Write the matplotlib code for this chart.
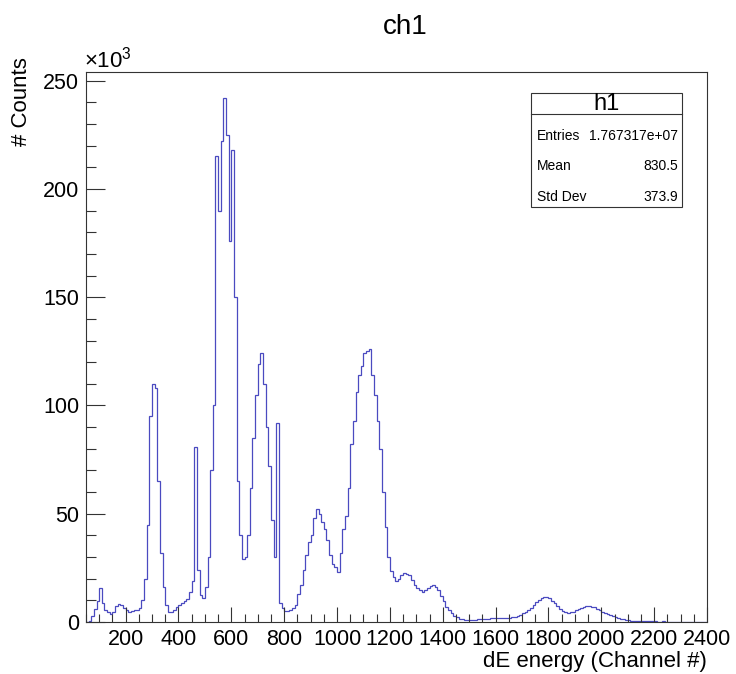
import numpy as np
import matplotlib
matplotlib.use("Agg")
import matplotlib.pyplot as plt
from matplotlib.patches import Rectangle
from matplotlib.lines import Line2D
from matplotlib.ticker import MultipleLocator

plt.rcParams['font.family'] = ['Liberation Sans', 'DejaVu Sans']
plt.rcParams['mathtext.fontset'] = 'custom'
plt.rcParams['mathtext.rm'] = 'Liberation Sans'

# histogram h1: 10-channel bins from 50 to 2400, counts in units of 10^3
bin_lo, bin_hi, bin_w = 50, 2400, 10
counts_k = [
    0, 0.5, 3, 6, 9.5, 15.5, 9, 5.5, 4.5, 3.5,             # 50-140
    4.5, 7.5, 8.5, 8, 6.5, 5.5, 4.5, 5, 5.5, 5.5,           # 150-240
    6.5, 10, 20, 45, 95, 110, 108, 65, 32, 16,              # 250-340
    8, 4.8, 4.5, 5.5, 7, 8, 9, 9.5, 10.5, 14,               # 350-440
    19, 81, 24, 12.5, 11, 16, 30, 70, 100, 215,             # 450-540
    190, 222, 242, 225, 176, 218, 150, 65, 40, 29,          # 550-640
    30, 40, 62, 85, 105, 119, 124, 110, 90, 72,             # 650-740
    47, 30, 92, 9, 6.5, 5, 5, 5.5, 6.5, 8,                  # 750-840
    13, 17, 24, 31, 37, 40, 48, 52, 50, 46,                 # 850-940
    43, 38, 31, 27, 25.5, 23, 32, 43, 49, 62,               # 950-1040
    82, 93, 106, 114, 118, 124, 125, 126, 114, 105,         # 1050-1140
    93, 80, 60, 44, 30, 23.5, 21, 19, 20, 21.5,             # 1150-1240
    22.5, 22, 21.5, 19.5, 17, 15.5, 14.8, 14, 15, 15.5,     # 1250-1340
    16.5, 17, 16, 14.8, 12, 9.5, 7, 5.5, 4, 3,              # 1350-1440
    2.3, 1.6, 1.2, 0.9, 0.9, 0.9, 1.0, 1.1, 1.2, 1.3,       # 1450-1540
    1.4, 1.5, 1.6, 1.7, 1.7, 1.7, 1.7, 1.7, 1.7, 1.8,       # 1550-1640
    1.9, 2.1, 2.4, 2.8, 3.3, 4.0, 4.8, 5.6, 6.6, 7.8,       # 1650-1740
    9.2, 10.2, 11, 11.5, 11.7, 11, 9.8, 8.6, 7.4, 6.2,      # 1750-1840
    5.2, 4.6, 4.2, 4.4, 4.8, 5.4, 5.9, 6.4, 6.9, 7.2,       # 1850-1940
    7.3, 7.1, 6.7, 6.2, 5.5, 4.8, 4.2, 3.7, 3.2, 2.8,       # 1950-2040
    2.4, 2.0, 1.6, 1.3, 1.0, 0.8, 0.6, 0.45, 0.35, 0.3,     # 2050-2140
    0.3, 0.25, 0.25, 0.3, 0.3, 0.25, 0.2, 0.2, 0.25, 0.2,   # 2150-2240
    0.2, 0.2, 0.15, 0.2, 0.2, 0.15, 0.15, 0.2, 0.15, 0.15,  # 2250-2340
    0.15, 0.1, 0.1, 0.1, 0.05,                              # 2350-2390
]
edges = np.arange(bin_lo, bin_hi + bin_w, bin_w)

x_ticks = [200, 400, 600, 800, 1000, 1200, 1400, 1600, 1800, 2000, 2200, 2400]
y_ticks = [0, 50, 100, 150, 200, 250]

stats_name = "h1"
stats_rows = [("Entries", "1.767317e+07"), ("Mean", "830.5"), ("Std Dev", "373.9")]

W, H = 736, 674
fig = plt.figure(figsize=(W / 100, H / 100), dpi=100)
ax = fig.add_axes([86 / W, 1 - 622 / H, (707 - 86) / W, (622 - 72) / H])

ax.stairs(counts_k, edges, color='#4a4ac0', linewidth=0.9)

ax.set_xlim(bin_lo, bin_hi)
ax.set_ylim(0, 254)
ax.set_xticks(x_ticks)
ax.set_yticks(y_ticks)
ax.xaxis.set_minor_locator(MultipleLocator(50))
ax.yaxis.set_minor_locator(MultipleLocator(10))
ax.tick_params(axis='x', which='major', direction='in', length=11, width=0.8,
               labelsize=15.5, pad=5, colors='#333333', labelcolor='black')
ax.tick_params(axis='x', which='minor', direction='in', length=5.8, width=0.8,
               colors='#333333')
ax.tick_params(axis='y', which='major', direction='in', length=13.5, width=0.8,
               labelsize=15.5, pad=5, colors='#333333', labelcolor='black')
ax.tick_params(axis='y', which='minor', direction='in', length=7, width=0.8,
               colors='#333333')
for s in ax.spines.values():
    s.set_color('#333333')
    s.set_linewidth(0.8)

fig.text(405 / W, 1 - 27 / H, "ch1", ha='center', va='center', fontsize=20)
fig.text(707 / W, 1 - 661 / H, "dE energy (Channel #)", ha='right', va='center', fontsize=16)
fig.text(22 / W, 1 - 57 / H, "# Counts", rotation=90, ha='center', va='top', fontsize=16)
fig.text(84 / W, 1 - 60 / H, r'$\mathregular{\times10^{3}}$', ha='left', va='center', fontsize=16)

# stats box
bx0, bx1, by0, by1 = 531, 682, 93, 207
fig.patches.append(Rectangle((bx0 / W, 1 - by1 / H), (bx1 - bx0) / W, (by1 - by0) / H,
                             transform=fig.transFigure, facecolor='white',
                             edgecolor='#333333', linewidth=0.8, zorder=5))
fig.lines.append(Line2D([bx0 / W, bx1 / W], [1 - 114 / H, 1 - 114 / H],
                        transform=fig.transFigure, color='#333333', linewidth=0.8, zorder=6))
fig.text((bx0 + bx1) / 2 / W, 1 - 103.5 / H, stats_name, ha='center', va='center',
         fontsize=17, zorder=7)
for (lab, val), yy in zip(stats_rows, [136, 166, 197]):
    fig.text(537 / W, 1 - yy / H, lab, ha='left', va='center', fontsize=10, zorder=7)
    fig.text(678 / W, 1 - yy / H, val, ha='right', va='center', fontsize=10, zorder=7)

fig.savefig("out.png", dpi=100)
